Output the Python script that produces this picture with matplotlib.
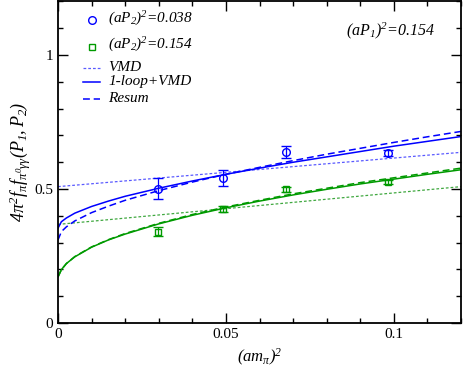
import matplotlib
matplotlib.use("Agg")
import matplotlib.pyplot as plt
import numpy as np

plt.rcParams['mathtext.fontset'] = 'custom'
plt.rcParams['mathtext.rm'] = 'Liberation Serif:italic'
plt.rcParams['mathtext.it'] = 'Liberation Serif:italic'
plt.rcParams['font.family'] = ['Liberation Serif', 'DejaVu Serif']

# ---- data ----
x_pts = [0.0298, 0.049, 0.0678, 0.0983]
y_p038 = [0.502, 0.540, 0.637, 0.634]
e_p038 = [0.039, 0.030, 0.022, 0.010]
y_p154 = [0.341, 0.425, 0.499, 0.526]
e_p154 = [0.017, 0.010, 0.010, 0.008]

x_curve = [0.0, 0.001, 0.0025, 0.005, 0.01, 0.015, 0.02, 0.03, 0.04, 0.05,
           0.06, 0.07, 0.08, 0.09, 0.10, 0.11, 0.12]
loop_038 = [0.354, 0.378, 0.392, 0.410, 0.435, 0.455, 0.473, 0.503, 0.530, 0.555,
            0.578, 0.600, 0.620, 0.640, 0.660, 0.678, 0.696]
resum_038 = [0.310, 0.341, 0.359, 0.381, 0.412, 0.436, 0.458, 0.494, 0.526, 0.555,
             0.581, 0.606, 0.630, 0.652, 0.674, 0.695, 0.715]
loop_154 = [0.172, 0.199, 0.222, 0.247, 0.283, 0.310, 0.332, 0.370, 0.402, 0.430,
            0.455, 0.478, 0.499, 0.519, 0.537, 0.555, 0.572]
resum_154 = [0.172, 0.199, 0.222, 0.248, 0.284, 0.311, 0.334, 0.372, 0.405, 0.433,
             0.458, 0.482, 0.503, 0.524, 0.542, 0.560, 0.578]

x_vmd = [0.0, 0.12]
vmd_038 = [0.509, 0.637]
vmd_154 = [0.368, 0.509]

blue = '#0000ff'
green = '#009a00'
blue_l = '#5a5aff'
green_l = '#40a840'

fig = plt.figure(figsize=(4.63, 3.72), dpi=100)
ax = fig.add_axes([0.1253, 0.1317, 0.8704, 0.8643])

# curves
ax.plot(x_vmd, vmd_038, color=blue_l, lw=0.9, dashes=(2.2, 1.6))
ax.plot(x_vmd, vmd_154, color=green_l, lw=0.9, dashes=(2.2, 1.6))
ax.plot(x_curve, loop_038, color=blue, lw=1.1)
ax.plot(x_curve, resum_038, color=blue, lw=1.1, dashes=(4.5, 2.5))
ax.plot(x_curve, loop_154, color=green, lw=1.1)
ax.plot(x_curve, resum_154, color=green, lw=1.1, dashes=(4.5, 2.5))

# data points
ax.errorbar(x_pts, y_p038, yerr=e_p038, fmt='o', mfc='none', mec=blue, ecolor=blue,
            ms=5.5, mew=1.0, capsize=3.3, elinewidth=0.9, capthick=0.9)
ax.errorbar(x_pts, y_p154, yerr=e_p154, fmt='s', mfc='none', mec=green, ecolor=green,
            ms=4.8, mew=1.0, capsize=3.3, elinewidth=0.9, capthick=0.9)

ax.set_xlim(0, 0.12)
ax.set_ylim(0, 1.2)
ax.set_xticks([0, 0.05, 0.1])
ax.set_xticklabels(['0', '0.05', '0.1'])
ax.set_yticks([0, 0.5, 1])
ax.set_yticklabels(['0', '0.5', '1'])
ax.set_xticks(np.arange(0, 0.121, 0.01), minor=True)
ax.set_yticks(np.arange(0, 1.21, 0.1), minor=True)
ax.tick_params(which='both', direction='in', top=True, right=True, labelsize=11, width=1.0)
ax.tick_params(which='major', length=7)
ax.tick_params(which='minor', length=3.5)
for s in ax.spines.values():
    s.set_linewidth(1.3)

ax.set_xlabel(r'$(am_\pi)^2$', fontsize=12, labelpad=4)
ax.set_ylabel(r'$4\pi^2 f_\pi f_{\pi^0\gamma\gamma}(P_1,P_2)$', fontsize=13, labelpad=1)

ax.text(0.099, 1.09, r'$(aP_1)^2$=0.154', fontsize=11.5, style='italic', ha='center', va='center')

# manual legend
T = ax.transAxes
ax.plot([0.084], [0.941], 'o', mfc='none', mec=blue, ms=5.5, mew=1.0, transform=T)
ax.plot([0.084], [0.860], 's', mfc='none', mec=green, ms=4.8, mew=1.0, transform=T)
ax.plot([0.062, 0.104], [0.794, 0.794], color=blue_l, lw=0.9, dashes=(2.2, 1.6), transform=T)
ax.plot([0.062, 0.104], [0.751, 0.751], color=blue, lw=1.1, transform=T)
ax.plot([0.062, 0.104], [0.698, 0.698], color=blue, lw=1.1, dashes=(4.5, 2.5), transform=T)
tx = 0.124
ax.text(tx, 0.945, r'$(aP_2)^2$=0.038', fontsize=11, style='italic', va='center', transform=T)
ax.text(tx, 0.864, r'$(aP_2)^2$=0.154', fontsize=11, style='italic', va='center', transform=T)
ax.text(tx, 0.794, 'VMD', fontsize=11, style='italic', va='center', transform=T)
ax.text(tx, 0.751, '1-loop+VMD', fontsize=11, style='italic', va='center', transform=T)
ax.text(tx, 0.698, 'Resum', fontsize=11, style='italic', va='center', transform=T)

fig.savefig('out.png', dpi=100)
